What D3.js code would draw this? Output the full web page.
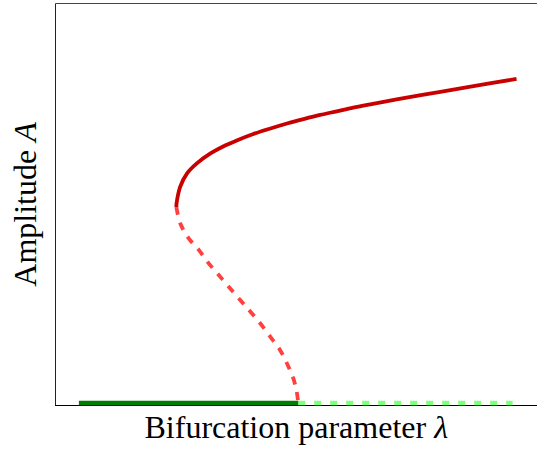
<!DOCTYPE html>
<html>
<head>
<meta charset="utf-8">
<script src="https://cdn.jsdelivr.net/npm/d3@7"></script>
<style>
  html, body { margin: 0; padding: 0; background: #fff; }
  svg { display: block; }
</style>
</head>
<body>
<svg id="chart" width="537" height="450"></svg>
<script>
// Subcritical pitchfork bifurcation diagram: amplitude A versus parameter λ.

// Trivial solution A = 0: stable for λ < 0, unstable for λ > 0
const trivialStableLambda   = [-0.45, 0.0];
const trivialUnstableLambda = [0.0, 0.44];

// Upper (stable) nontrivial branch, from the fold outward
const stableLambda = [-0.250, -0.2495, -0.242, -0.228, -0.208, -0.180, -0.153, -0.126,
                      -0.092, -0.057, -0.023, 0.011, 0.045, 0.079, 0.113, 0.148,
                      0.202, 0.270, 0.339, 0.448];
const stableA      = [0.708, 0.721, 0.781, 0.829, 0.865, 0.901, 0.927, 0.948,
                      0.971, 0.991, 1.009, 1.025, 1.040, 1.053, 1.066, 1.078,
                      1.096, 1.117, 1.138, 1.170];

// Lower (unstable) nontrivial branch, from the fold down to the origin
const unstableLambda = [-0.250, -0.242, -0.225, -0.204, -0.184, -0.163, -0.143, -0.119,
                        -0.098, -0.078, -0.057, -0.037, -0.023, -0.010, -0.003, 0.0];
const unstableA      = [0.708, 0.649, 0.595, 0.553, 0.505, 0.462, 0.421, 0.372,
                        0.330, 0.288, 0.239, 0.191, 0.143, 0.089, 0.041, 0.0];

const xLabel = "Bifurcation parameter ";
const xSymbol = "λ";
const yLabel = "Amplitude ";
const ySymbol = "A";

const svg = d3.select("#chart");
const plotLeft = 55.5, plotRight = 537, plotTop = 3.5, plotBottom = 405.5;

const x = d3.scaleLinear().domain([-0.5, 0.49]).range([plotLeft - 1, plotRight]);
const y = d3.scaleLinear().domain([-0.007, 1.444]).range([plotBottom - 0.5, plotTop - 0.5]);

const zip = (xs, ys) => xs.map((v, i) => [v, ys[i]]);
const curve = d3.line().x(d => x(d[0])).y(d => y(d[1])).curve(d3.curveCatmullRom.alpha(0.5));
const straight = d3.line().x(d => x(d[0])).y(d => y(d[1]));

// Frame: left, top and bottom spines
svg.append("line").attr("x1", plotLeft).attr("x2", plotLeft).attr("y1", plotTop).attr("y2", plotBottom)
  .attr("stroke", "#222").attr("stroke-width", 1);
svg.append("line").attr("x1", plotLeft).attr("x2", plotRight).attr("y1", plotTop).attr("y2", plotTop)
  .attr("stroke", "#444").attr("stroke-width", 1);
svg.append("g").attr("transform", `translate(0,${plotBottom - 0.5})`)
  .call(d3.axisBottom(x).tickValues([]).tickSizeOuter(0))
  .call(g => g.select(".domain").attr("stroke", "#000").attr("stroke-width", 1));

// Trivial branch
svg.append("path").datum(trivialUnstableLambda.map(l => [l, 0]))
  .attr("d", straight).attr("fill", "none")
  .attr("stroke", "#80ff80").attr("stroke-width", 4.5)
  .attr("stroke-dasharray", "7,9");
svg.append("path").datum(trivialStableLambda.map(l => [l, 0]))
  .attr("d", straight).attr("fill", "none")
  .attr("stroke", "#008000").attr("stroke-width", 4.5);

// Nontrivial branches
svg.append("path").datum(zip(unstableLambda, unstableA))
  .attr("d", curve).attr("fill", "none")
  .attr("stroke", "#ff4040").attr("stroke-width", 3.8)
  .attr("stroke-dasharray", "8,8");
svg.append("path").datum(zip(stableLambda, stableA))
  .attr("d", curve).attr("fill", "none")
  .attr("stroke", "#c80000").attr("stroke-width", 3.8);

// Axis labels
const font = "'Liberation Serif', 'Times New Roman', serif";
const xt = svg.append("text").attr("x", (plotLeft + plotRight) / 2).attr("y", 438)
  .attr("text-anchor", "middle").attr("font-family", font).attr("font-size", 32)
  .attr("fill", "#000");
xt.append("tspan").text(xLabel);
xt.append("tspan").attr("font-style", "italic").text(xSymbol);

const yt = svg.append("text")
  .attr("transform", `translate(36,${(plotTop + plotBottom) / 2}) rotate(-90)`)
  .attr("text-anchor", "middle").attr("font-family", font).attr("font-size", 32)
  .attr("fill", "#000");
yt.append("tspan").text(yLabel);
yt.append("tspan").attr("font-style", "italic").text(ySymbol);
</script>
</body>
</html>
